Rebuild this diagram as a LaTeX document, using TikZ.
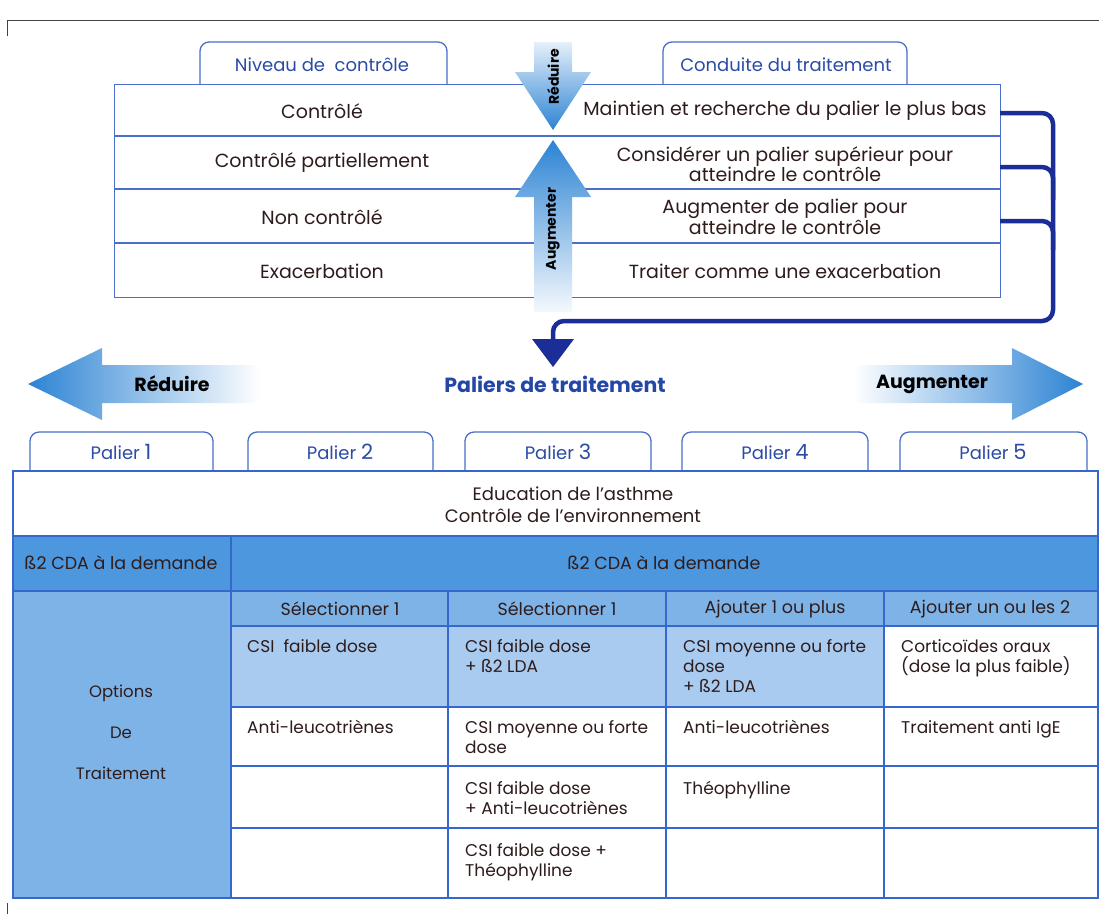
\documentclass[tikz,border=0pt]{standalone}
\usepackage{fontspec}
\setmainfont{Poppins}
\usetikzlibrary{calc}
\definecolor{gridblue}{HTML}{3567CC}
\definecolor{tabblue}{HTML}{4A6FC8}
\definecolor{tabtext}{HTML}{2B4BA6}
\definecolor{txtc}{HTML}{2E1C1C}
\definecolor{navy}{HTML}{1B2D97}
\definecolor{rowblue}{HTML}{4C97DE}
\definecolor{optblue}{HTML}{7EB3E7}
\definecolor{lightblue}{HTML}{AACBF0}
\definecolor{arrowblue}{HTML}{2C83D4}
\definecolor{titleblue}{HTML}{2446A6}
\definecolor{framegray}{HTML}{444444}
\begin{document}
\begin{tikzpicture}[x=1pt,y=-1pt,
  toptxt/.style={font=\fontsize{19}{18}\selectfont, text=txtc, align=center, inner sep=0},
  celltxt/.style={font=\fontsize{17}{20}\selectfont, text=txtc, align=left, anchor=north west, inner sep=0},
  headtxt/.style={font=\fontsize{17.5}{20}\selectfont, text=txtc, align=center, inner sep=0},
  tabpath/.style={draw=tabblue, line width=1.3pt, fill=white, rounded corners=9},
  tabtxt/.style={font=\fontsize{18}{20}\selectfont, text=tabtext, inner sep=0},
  topgrid/.style={draw=tabblue, line width=1.3pt},
  botgrid/.style={draw=gridblue, line width=2pt},
  bracket/.style={draw=navy, line width=4.5pt, rounded corners=11},
  bigtxt/.style={font=\bfseries\fontsize{19}{20}\selectfont, text=black, inner sep=0},
  vtxt/.style={font=\bfseries\fontsize{14}{15}\selectfont, text=black, inner sep=0, rotate=90}
]
\useasboundingbox (0,0) rectangle (1099,914);
% page frame fragments
\draw[framegray, line width=0.8pt] (7,36) -- (7,20) -- (1099,20);
\draw[framegray, line width=0.8pt] (7,903) -- (7,914);

% ---------- top table ----------
\path[tabpath] (200,84) -- (200,42) -- (447,42) -- (447,84);
\path[tabpath] (663,84) -- (663,42) -- (907,42) -- (907,84);
\node[tabtxt] (tabNiv) at (322,65) {Niveau de\ \ contrôle};
\node[tabtxt] (tabCond) at (786,65) {Conduite du traitement};

\node[topgrid, fill=white, anchor=north west, minimum width=886pt, minimum height=213pt, inner sep=0] (topTable) at (114,84) {};
\draw[topgrid] (114,136) -- (1000,136);
\draw[topgrid] (114,189) -- (1000,189);
\draw[topgrid] (114,243) -- (1000,243);

\node[toptxt] (l1) at (322,111) {Contrôlé};
\node[toptxt] (l2) at (322,163) {Contrôlé partiellement};
\node[toptxt] (l3) at (322,217) {Non contrôlé};
\node[toptxt] (l4) at (322,271) {Exacerbation};
\node[toptxt] (r1) at (785,111) {Maintien et recherche du palier le plus bas};
\node[toptxt] (r2) at (785,164) {Considérer un palier supérieur pour\\atteindre le contrôle};
\node[toptxt] (r3) at (785,217) {Augmenter de palier pour\\atteindre le contrôle};
\node[toptxt] (r4) at (785,271) {Traiter comme une exacerbation};

% vertical arrows
\shade[top color=arrowblue!12, bottom color=arrowblue]
  (534,42) -- (572,42) -- (572,72) -- (591,72) -- (553,130) -- (515,72) -- (534,72) -- cycle;
\node[vtxt] (vRed) at (553,77) {Réduire};
\shade[top color=arrowblue, bottom color=arrowblue!5]
  (553,140) -- (591,197) -- (572,197) -- (572,312) -- (534,312) -- (534,197) -- (515,197) -- cycle;
\node[vtxt] (vAug) at (553,229) {Augmenter};

% bracket connector
\coordinate (b1) at (1000,113);
\coordinate (b2) at (1000,167);
\coordinate (b3) at (1000,221);
\coordinate (bEnd) at (553,343);
\draw[bracket] (b2) -| (1053,200);
\draw[bracket] (b3) -| (1053,250);
\draw[bracket] (b1) -| (1053,321) -| (bEnd);
\fill[navy] (532,339) -- (574,339) -- (553,367) -- cycle;

% ---------- middle ----------
\node[font=\bfseries\fontsize{20.5}{22}\selectfont, text=titleblue, inner sep=0] (paliers) at (555,384) {Paliers de traitement};
\shade[left color=arrowblue, right color=white]
  (28,384) -- (102,348) -- (102,365) -- (260,365) -- (260,403) -- (102,403) -- (102,420) -- cycle;
\node[bigtxt] (redTxt) at (172,384) {Réduire};
\shade[left color=white, right color=arrowblue]
  (853,365) -- (1012,365) -- (1012,348) -- (1083,384) -- (1012,420) -- (1012,403) -- (853,403) -- cycle;
\node[bigtxt] (augTxt) at (932,384) {Augmenter};

% palier tabs
\path[tabpath] (30,470) -- (30,432) -- (213,432) -- (213,470);
\path[tabpath] (248,470) -- (248,432) -- (433,432) -- (433,470);
\path[tabpath] (465,470) -- (465,432) -- (651,432) -- (651,470);
\path[tabpath] (682,470) -- (682,432) -- (868,432) -- (868,470);
\path[tabpath] (900,470) -- (900,432) -- (1087,432) -- (1087,470);
\node[tabtxt] (p1) at (121,452) {Palier {\fontsize{21}{21}\selectfont 1}};
\node[tabtxt] (p2) at (340,452) {Palier {\fontsize{21}{21}\selectfont 2}};
\node[tabtxt] (p3) at (558,452) {Palier {\fontsize{21}{21}\selectfont 3}};
\node[tabtxt] (p4) at (775,452) {Palier {\fontsize{21}{21}\selectfont 4}};
\node[tabtxt] (p5) at (993,452) {Palier {\fontsize{21}{21}\selectfont 5}};

% ---------- bottom table ----------
\fill[white] (12,470) rectangle (1097,536);
\fill[rowblue] (12,536) rectangle (1097,591);
\fill[optblue] (12,591) rectangle (231,897);
\fill[optblue] (231,591) rectangle (1097,626);
\fill[lightblue] (231,626) rectangle (884,707);
\fill[white] (884,626) rectangle (1097,707);
\fill[white] (231,707) rectangle (1097,897);
\draw[botgrid] (12,536) -- (1097,536);
\draw[botgrid] (12,591) -- (1097,591);
\draw[botgrid] (231,626) -- (1097,626);
\draw[botgrid] (231,707) -- (1097,707);
\draw[botgrid] (231,766) -- (1097,766);
\draw[botgrid] (231,828) -- (1097,828);
\draw[botgrid] (231,536) -- (231,897);
\draw[botgrid] (448,591) -- (448,897);
\draw[botgrid] (666,591) -- (666,897);
\draw[botgrid] (884,591) -- (884,897);
\node[botgrid, anchor=north west, minimum width=1085pt, minimum height=427pt, inner sep=0] (botTable) at (12,470) {};

\node[toptxt, font=\fontsize{18}{22}\selectfont] (edu) at (573,505) {Education de l’asthme\\Contrôle de l’environnement};
\node[headtxt] (b2l) at (121,563) {ß2 CDA à la demande};
\node[headtxt] (b2r) at (664,563) {ß2 CDA à la demande};
\node[headtxt] (h1) at (340,609) {Sélectionner 1};
\node[headtxt] (h2) at (557,609) {Sélectionner 1};
\node[headtxt] (h3) at (775,609) {Ajouter 1 ou plus};
\node[headtxt] (h4) at (990,609) {Ajouter un ou les 2};
\node[headtxt, font=\fontsize{16.5}{20}\selectfont] (opt1) at (121,693) {Options};
\node[headtxt, font=\fontsize{16.5}{20}\selectfont] (opt2) at (121,733) {De};
\node[headtxt, font=\fontsize{16.5}{20}\selectfont] (opt3) at (121,773) {Traitement};

\node[celltxt] (c11) at (247,639) {CSI\ \ faible dose};
\node[celltxt] (c12) at (465,639) {CSI faible dose\\+ ß2 LDA};
\node[celltxt] (c13) at (683,639) {CSI moyenne ou forte\\dose\\+ ß2 LDA};
\node[celltxt] (c14) at (901,639) {Corticoïdes oraux\\(dose la plus faible)};
\node[celltxt] (c21) at (247,720) {Anti-leucotriènes};
\node[celltxt] (c22) at (465,720) {CSI moyenne ou forte\\dose};
\node[celltxt] (c23) at (683,720) {Anti-leucotriènes};
\node[celltxt] (c24) at (901,720) {Traitement anti IgE};
\node[celltxt] (c32) at (465,781) {CSI faible dose\\+ Anti-leucotriènes};
\node[celltxt] (c33) at (683,781) {Théophylline};
\node[celltxt] (c42) at (465,843) {CSI faible dose +\\Théophylline};
\end{tikzpicture}
\end{document}
